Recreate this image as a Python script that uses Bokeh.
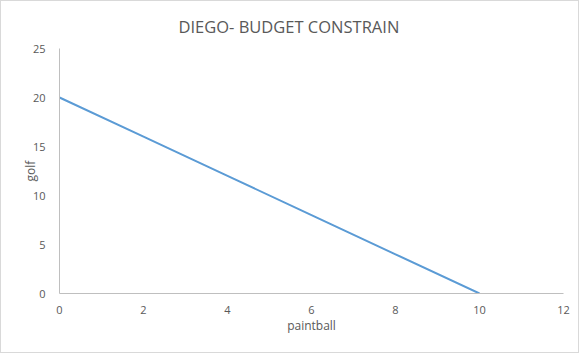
from bokeh.plotting import figure
from bokeh.embed import file_html
from bokeh.resources import INLINE
from bokeh.models import Range1d, FixedTicker

paintball = [0, 2, 4, 6, 8, 10]
golf = [20, 16, 12, 8, 4, 0]
x_ticks = [0, 2, 4, 6, 8, 10, 12]
y_ticks = [0, 5, 10, 15, 20, 25]

FONT = "Open Sans"
GREY = "#595959"

p = figure(width=579, height=353, output_backend="svg", toolbar_location=None,
           x_range=Range1d(0, 12), y_range=Range1d(0, 25),
           min_border_left=58, min_border_right=17, min_border_top=46, min_border_bottom=61)
p.title.text = "DIEGO- BUDGET CONSTRAIN"
p.title.align = "left"
p.title.offset = 119
p.title.standoff = 22
p.title.text_font = FONT
p.title.text_font_size = "16.5px"
p.title.text_font_style = "normal"
p.title.text_color = GREY

p.line(paintball, golf, line_color="#5b9bd5", line_width=2)

p.grid.visible = False
p.outline_line_color = None
for ax in (p.xaxis[0], p.yaxis[0]):
    ax.major_tick_line_color = None
    ax.minor_tick_line_color = None
    ax.axis_line_color = "#bfbfbf"
    ax.major_label_text_font = FONT
    ax.major_label_text_font_size = "11px"
    ax.major_label_text_color = GREY
    ax.axis_label_text_font = FONT
    ax.axis_label_text_font_size = "12px"
    ax.axis_label_text_font_style = "normal"
    ax.axis_label_text_color = GREY
p.xaxis.ticker = FixedTicker(ticks=x_ticks)
p.yaxis.ticker = FixedTicker(ticks=y_ticks)
p.xaxis.axis_label = "paintball"
p.yaxis.axis_label = "golf"
p.xaxis.major_label_standoff = 6
p.yaxis.major_label_standoff = 8
p.xaxis.axis_label_standoff = 0
p.yaxis.axis_label_standoff = -9
p.styles = {"border": "1px solid #d9d9d9", "box-sizing": "border-box"}

open("out.html", "w").write(file_html(p, INLINE))
